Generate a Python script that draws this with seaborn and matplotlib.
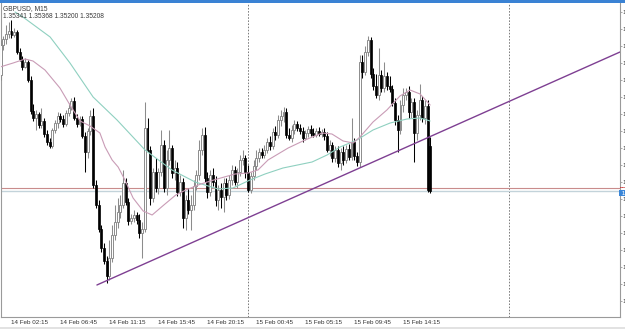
import numpy as np
import pandas as pd
import matplotlib
matplotlib.use("Agg")
import matplotlib.pyplot as plt
import matplotlib.transforms as mtransforms
from matplotlib.patches import Rectangle
import seaborn as sns

sns.set_style("white")
plt.rcParams["font.family"] = ["Liberation Sans", "DejaVu Sans"]

symbol_title = "GBPUSD, M15"
start_time = "2022-02-14 01:15"

open_ = [1.35555, 1.35645, 1.35663, 1.35678, 1.35687, 1.35675, 1.35684, 1.35624, 1.35603, 1.35579,
         1.35594, 1.35540, 1.35447, 1.35426, 1.35438, 1.35405, 1.35417, 1.35378, 1.35354, 1.35342,
         1.35390, 1.35411, 1.35432, 1.35423, 1.35408, 1.35441, 1.35456, 1.35477, 1.35426, 1.35408,
         1.35423, 1.35372, 1.35324, 1.35387, 1.35432, 1.35225, 1.35165, 1.35093, 1.35036, 1.34997,
         1.34952, 1.35006, 1.35075, 1.35114, 1.35144, 1.35165, 1.35231, 1.35174, 1.35117, 1.35126,
         1.35135, 1.35120, 1.35081, 1.35093, 1.35396, 1.35330, 1.35186, 1.35264, 1.35216, 1.35264,
         1.35345, 1.35216, 1.35300, 1.35336, 1.35261, 1.35276, 1.35204, 1.35234, 1.35126, 1.35180,
         1.35150, 1.35165, 1.35222, 1.35255, 1.35330, 1.35375, 1.35246, 1.35204, 1.35255, 1.35234,
         1.35180, 1.35210, 1.35189, 1.35231, 1.35195, 1.35240, 1.35270, 1.35234, 1.35264, 1.35300,
         1.35306, 1.35264, 1.35210, 1.35252, 1.35282, 1.35306, 1.35324, 1.35315, 1.35330, 1.35354,
         1.35342, 1.35384, 1.35375, 1.35420, 1.35432, 1.35444, 1.35375, 1.35366, 1.35390, 1.35408,
         1.35396, 1.35387, 1.35366, 1.35381, 1.35393, 1.35381, 1.35375, 1.35387, 1.35378, 1.35384,
         1.35372, 1.35330, 1.35345, 1.35306, 1.35330, 1.35291, 1.35324, 1.35300, 1.35333, 1.35309,
         1.35354, 1.35312, 1.35294, 1.35594, 1.35564, 1.35624, 1.35660, 1.35558, 1.35522, 1.35495,
         1.35555, 1.35516, 1.35552, 1.35522, 1.35513, 1.35471, 1.35420, 1.35390, 1.35465, 1.35495,
         1.35504, 1.35444, 1.35474, 1.35381, 1.35435, 1.35480, 1.35426, 1.35462, 1.35341]

high = [1.35660, 1.35672, 1.35705, 1.35714, 1.35720, 1.35696, 1.35690, 1.35636, 1.35612, 1.35606,
        1.35600, 1.35552, 1.35468, 1.35450, 1.35444, 1.35456, 1.35426, 1.35390, 1.35366, 1.35396,
        1.35420, 1.35444, 1.35441, 1.35435, 1.35450, 1.35471, 1.35486, 1.35489, 1.35438, 1.35432,
        1.35432, 1.35384, 1.35396, 1.35450, 1.35456, 1.35240, 1.35180, 1.35105, 1.35051, 1.35012,
        1.35060, 1.35105, 1.35165, 1.35186, 1.35195, 1.35270, 1.35246, 1.35186, 1.35138, 1.35150,
        1.35144, 1.35138, 1.35114, 1.35474, 1.35426, 1.35342, 1.35276, 1.35306, 1.35276, 1.35390,
        1.35360, 1.35330, 1.35390, 1.35345, 1.35300, 1.35294, 1.35255, 1.35246, 1.35195, 1.35216,
        1.35195, 1.35240, 1.35270, 1.35360, 1.35396, 1.35399, 1.35264, 1.35270, 1.35276, 1.35252,
        1.35225, 1.35231, 1.35246, 1.35246, 1.35255, 1.35285, 1.35282, 1.35276, 1.35315, 1.35330,
        1.35315, 1.35285, 1.35264, 1.35300, 1.35330, 1.35336, 1.35336, 1.35345, 1.35366, 1.35372,
        1.35396, 1.35402, 1.35435, 1.35450, 1.35459, 1.35456, 1.35396, 1.35405, 1.35420, 1.35417,
        1.35408, 1.35399, 1.35390, 1.35402, 1.35405, 1.35396, 1.35396, 1.35399, 1.35393, 1.35396,
        1.35384, 1.35360, 1.35354, 1.35342, 1.35342, 1.35336, 1.35342, 1.35345, 1.35348, 1.35426,
        1.35366, 1.35324, 1.35615, 1.35615, 1.35642, 1.35672, 1.35669, 1.35576, 1.35558, 1.35636,
        1.35570, 1.35594, 1.35564, 1.35552, 1.35525, 1.35486, 1.35435, 1.35480, 1.35516, 1.35516,
        1.35522, 1.35486, 1.35486, 1.35450, 1.35528, 1.35492, 1.35480, 1.35480, 1.35368]

low = [1.35540, 1.35630, 1.35648, 1.35666, 1.35666, 1.35669, 1.35618, 1.35597, 1.35570, 1.35576,
       1.35534, 1.35438, 1.35417, 1.35390, 1.35396, 1.35396, 1.35369, 1.35345, 1.35336, 1.35336,
       1.35381, 1.35396, 1.35414, 1.35399, 1.35402, 1.35432, 1.35450, 1.35420, 1.35399, 1.35402,
       1.35366, 1.35264, 1.35306, 1.35375, 1.35216, 1.35156, 1.35084, 1.35024, 1.34988, 1.34931,
       1.34940, 1.34994, 1.35060, 1.35096, 1.35126, 1.35156, 1.35165, 1.35105, 1.35108, 1.35114,
       1.35108, 1.35066, 1.35006, 1.35084, 1.35324, 1.35165, 1.35174, 1.35204, 1.35198, 1.35252,
       1.35204, 1.35195, 1.35285, 1.35246, 1.35240, 1.35192, 1.35192, 1.35096, 1.35090, 1.35138,
       1.35090, 1.35150, 1.35210, 1.35240, 1.35315, 1.35234, 1.35186, 1.35192, 1.35222, 1.35162,
       1.35150, 1.35156, 1.35144, 1.35180, 1.35183, 1.35225, 1.35225, 1.35216, 1.35252, 1.35285,
       1.35246, 1.35204, 1.35201, 1.35240, 1.35270, 1.35294, 1.35306, 1.35306, 1.35321, 1.35330,
       1.35333, 1.35360, 1.35366, 1.35402, 1.35414, 1.35366, 1.35360, 1.35354, 1.35378, 1.35387,
       1.35378, 1.35354, 1.35360, 1.35369, 1.35372, 1.35369, 1.35369, 1.35372, 1.35369, 1.35360,
       1.35324, 1.35312, 1.35294, 1.35294, 1.35279, 1.35270, 1.35285, 1.35291, 1.35300, 1.35300,
       1.35300, 1.35282, 1.35279, 1.35546, 1.35555, 1.35612, 1.35546, 1.35510, 1.35486, 1.35480,
       1.35504, 1.35504, 1.35510, 1.35504, 1.35462, 1.35405, 1.35324, 1.35378, 1.35444, 1.35480,
       1.35426, 1.35426, 1.35294, 1.35360, 1.35420, 1.35414, 1.35408, 1.35204, 1.35200]

close = [1.35645, 1.35663, 1.35678, 1.35687, 1.35675, 1.35684, 1.35624, 1.35603, 1.35579, 1.35594,
         1.35540, 1.35447, 1.35426, 1.35438, 1.35405, 1.35417, 1.35378, 1.35354, 1.35342, 1.35390,
         1.35411, 1.35432, 1.35423, 1.35408, 1.35441, 1.35456, 1.35477, 1.35426, 1.35408, 1.35423,
         1.35372, 1.35324, 1.35387, 1.35432, 1.35225, 1.35165, 1.35093, 1.35036, 1.34997, 1.34952,
         1.35006, 1.35075, 1.35114, 1.35144, 1.35165, 1.35231, 1.35174, 1.35117, 1.35126, 1.35135,
         1.35120, 1.35081, 1.35093, 1.35396, 1.35330, 1.35186, 1.35264, 1.35216, 1.35264, 1.35345,
         1.35216, 1.35300, 1.35336, 1.35261, 1.35276, 1.35204, 1.35234, 1.35126, 1.35180, 1.35150,
         1.35165, 1.35222, 1.35255, 1.35330, 1.35375, 1.35246, 1.35204, 1.35255, 1.35234, 1.35180,
         1.35210, 1.35189, 1.35231, 1.35195, 1.35240, 1.35270, 1.35234, 1.35264, 1.35300, 1.35306,
         1.35264, 1.35210, 1.35252, 1.35282, 1.35306, 1.35324, 1.35315, 1.35330, 1.35354, 1.35342,
         1.35384, 1.35375, 1.35420, 1.35432, 1.35444, 1.35375, 1.35366, 1.35390, 1.35408, 1.35396,
         1.35387, 1.35366, 1.35381, 1.35393, 1.35381, 1.35375, 1.35387, 1.35378, 1.35384, 1.35372,
         1.35330, 1.35345, 1.35306, 1.35330, 1.35291, 1.35324, 1.35300, 1.35333, 1.35309, 1.35354,
         1.35312, 1.35294, 1.35594, 1.35564, 1.35624, 1.35660, 1.35558, 1.35522, 1.35495, 1.35555,
         1.35516, 1.35552, 1.35522, 1.35513, 1.35471, 1.35420, 1.35390, 1.35465, 1.35495, 1.35504,
         1.35444, 1.35474, 1.35381, 1.35435, 1.35480, 1.35426, 1.35462, 1.35210, 1.35208]

# moving averages (bar index, price)
ma_slow_idx = [5.3, 8.2, 18.2, 25.5, 34.0, 42.8, 53.1, 63.0, 71.5, 79.9, 85.4, 91.7, 97.2,
               103.8, 114.5, 120.0, 124.8, 131.0, 136.9, 143.2, 149.4, 154.2, 157.9]
ma_slow_val = [1.35744, 1.35729, 1.35669, 1.35591, 1.35489, 1.35420, 1.35330, 1.35270, 1.35234,
               1.35213, 1.35216, 1.35240, 1.35258, 1.35276, 1.35294, 1.35315, 1.35339, 1.35360,
               1.35390, 1.35411, 1.35423, 1.35426, 1.35417]
ma_fast_idx = [-0.2, 4.6, 9.0, 11.9, 16.3, 21.8, 25.5, 29.2, 32.9, 36.5, 38.4, 41.0, 43.2, 45.7,
               48.7, 52.4, 55.7, 60.0, 64.4, 68.1, 73.6, 79.6, 86.2, 91.0, 94.6, 98.3, 105.7,
               111.9, 118.2, 121.8, 125.9, 129.6, 132.1, 136.9, 142.0, 146.8, 150.5, 154.2, 157.9]
ma_fast_val = [1.35579, 1.35591, 1.35603, 1.35597, 1.35570, 1.35516, 1.35465, 1.35417, 1.35402,
               1.35381, 1.35339, 1.35300, 1.35279, 1.35240, 1.35186, 1.35147, 1.35135, 1.35165,
               1.35195, 1.35210, 1.35228, 1.35243, 1.35258, 1.35261, 1.35270, 1.35300, 1.35336,
               1.35360, 1.35381, 1.35378, 1.35357, 1.35351, 1.35369, 1.35414, 1.35450, 1.35492,
               1.35510, 1.35498, 1.35465]

trend_idx = [35.4, 227.7]
trend_val = [1.34925, 1.35624]

bid_price = 1.35208
ask_price = 1.35216

# ---------------------------------------------------------------
o = np.array(open_); h = np.array(high); l = np.array(low); c = np.array(close)
idx = np.arange(len(c))
times = pd.date_range(start_time, periods=len(c), freq="15min")
t0 = pd.Timestamp(start_time)

fig = plt.figure(figsize=(6.25, 3.29), dpi=100)
ax = fig.add_axes([1 / 625, 12 / 329, 619 / 625, 314 / 329])
ax.set_facecolor("white")

XMIN, XMAX = 0.14, 227.7
YMIN, YMAX = 1.34829, 1.35771
ax.set_xlim(XMIN, XMAX)
ax.set_ylim(YMIN, YMAX)

# day separators
for day in ["2022-02-15", "2022-02-16"]:
    pos = (pd.Timestamp(day) - t0) / pd.Timedelta("15min")
    ax.axvline(pos, color="#7a7a7a", lw=0.7, ls=(0, (1.6, 1.6)), zorder=1)

# bid / ask lines
ax.axhline(ask_price, color="#c98c8c", lw=0.8, zorder=2)
ax.axhline(bid_price, color="#c3d3da", lw=1.0, zorder=2)

BULL = "#8c8c8c"
up = c >= o
ax.vlines(idx[up], l[up], h[up], color=BULL, lw=0.75, zorder=3)
ax.vlines(idx[~up], l[~up], h[~up], color="black", lw=0.75, zorder=3)
body_bottom = np.minimum(o, c)
body_h = np.maximum(np.abs(c - o), 0.00002)
ax.bar(idx[up], body_h[up], bottom=body_bottom[up], width=0.72, color="white",
       edgecolor=BULL, linewidth=0.7, zorder=4)
ax.bar(idx[~up], body_h[~up], bottom=body_bottom[~up], width=0.72, color="black",
       edgecolor="black", linewidth=0.5, zorder=4)

sns.lineplot(x=ma_slow_idx, y=ma_slow_val, ax=ax, color="#8fd0c0", lw=0.8,
             sort=False, estimator=None, zorder=5)
sns.lineplot(x=ma_fast_idx, y=ma_fast_val, ax=ax, color="#c99cb6", lw=0.8,
             sort=False, estimator=None, zorder=5)
sns.lineplot(x=trend_idx, y=trend_val, ax=ax, color="#7e3f92", lw=1.0,
             sort=False, estimator=None, zorder=6)

# axes styling
ax.spines["top"].set_visible(False)
for side in ["left", "bottom", "right"]:
    ax.spines[side].set_visible(True)
    ax.spines[side].set_color("#9a9a9a")
    ax.spines[side].set_linewidth(0.8)

tick_pos = idx[4::18]
tick_lab = [times[i].strftime("%d %b %H:%M") for i in tick_pos]
ax.set_xticks(tick_pos)
ax.set_xticklabels(tick_lab, ha="left", fontsize=4.5, color="#333333")
ax.tick_params(axis="x", direction="out", length=1.6, width=0.6, color="#9a9a9a", pad=0.5)

yt = np.round(np.arange(1.35744, YMIN, -0.00051), 5)
ax.yaxis.tick_right()
ax.set_yticks(yt)
ax.set_yticklabels([f"{v:.5f}" for v in yt], fontsize=4.5, color="#333333")
ax.tick_params(axis="y", direction="out", length=1.6, width=0.6, color="#9a9a9a", pad=0.5)
ax.set_xlabel(""); ax.set_ylabel("")
ax.grid(False)

# price tags on the right scale
trans = mtransforms.blended_transform_factory(ax.transAxes, ax.transData)
ax.text(1.0005, bid_price, f" {bid_price:.5f}", transform=trans, fontsize=4.5, color="white",
        va="top", ha="left", clip_on=False, zorder=8,
        bbox=dict(facecolor="#3a86d8", edgecolor="none", pad=0.6))
ax.text(1.0005, ask_price, f" {ask_price:.5f}", transform=trans, fontsize=1.6, color="white",
        va="bottom", ha="left", clip_on=False, zorder=8,
        bbox=dict(facecolor="#c83a3a", edgecolor="none", pad=0.3))

# header text
fig.text(3 / 625, 1 - 8.5 / 329, symbol_title, fontsize=4.8, color="#3a3a3a", va="center")
fig.text(3 / 625, 1 - 16.5 / 329, f"{o[-1]:.5f} {h[-1]:.5f} {l[-1]:.5f} {c[-1]:.5f}",
         fontsize=4.8, color="#3a3a3a", va="center")

# window strips
fig.add_artist(Rectangle((0, 1 - 2.5 / 329), 1, 2.5 / 329, transform=fig.transFigure,
                         facecolor="#3a82d4", edgecolor="none"))
fig.add_artist(Rectangle((0, 0), 1, 2.2 / 329, transform=fig.transFigure,
                         facecolor="#e2e2e2", edgecolor="none"))

fig.savefig("out.png", dpi=100, facecolor="white")
